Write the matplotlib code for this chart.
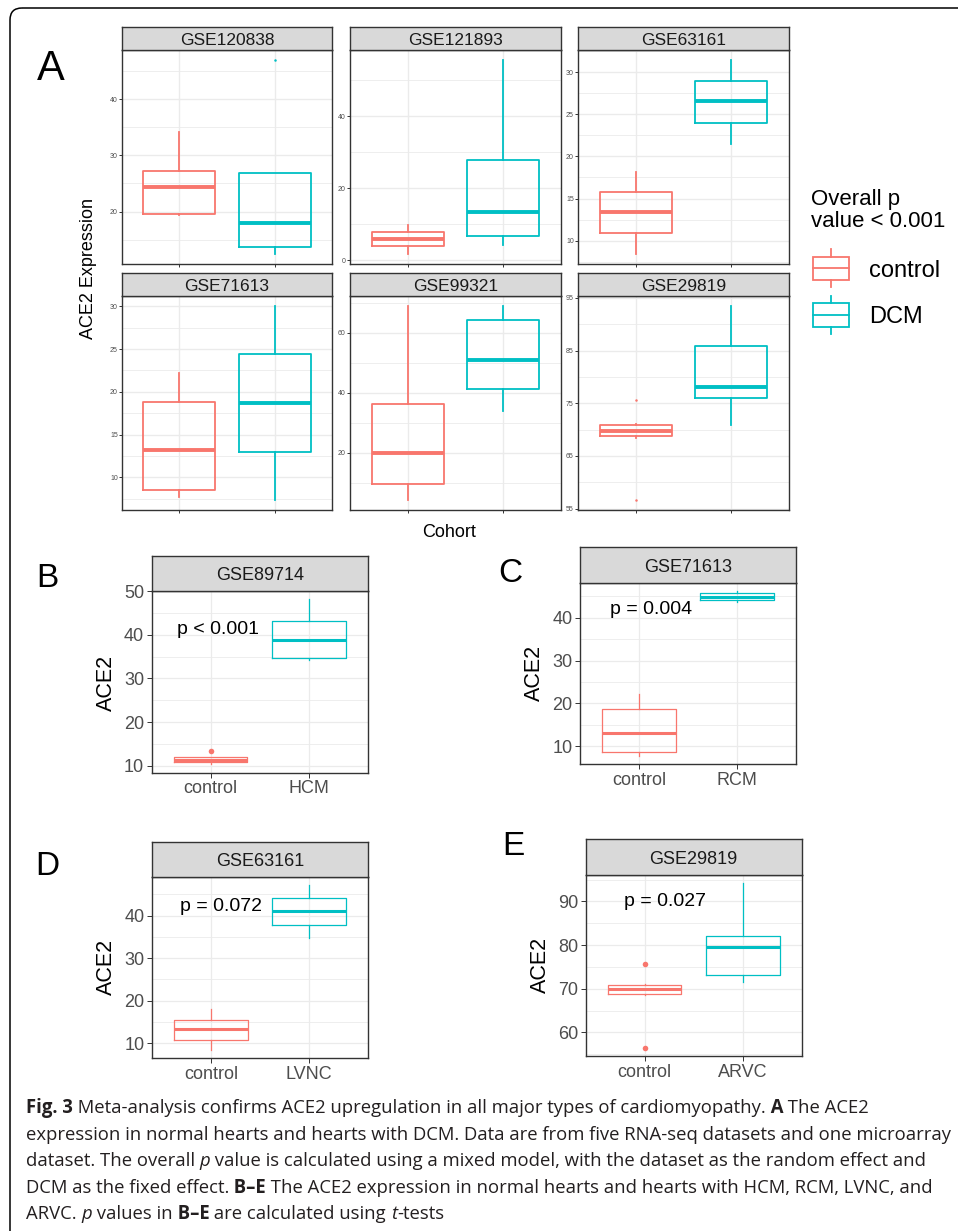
"""Fig. 3 - ACE2 expression box plots (meta-analysis across cardiomyopathies)."""

import numpy as np
import matplotlib.pyplot as plt
from matplotlib.patches import FancyBboxPatch, Rectangle

W, H = 958, 1231          # output size in pixels (dpi = 100)
CONTROL = "#F8766D"
CASE = "#00BFC4"
GRID = "#EBEBEB"
FRAME = "#333333"
TICK_TXT = "#4D4D4D"
STRIP = "#D9D9D9"
FONT = ["Liberation Sans", "DejaVu Sans"]
CAPTION_FONT = ["Open Sans", "DejaVu Sans"]

# ---- data: five-number summaries [whislo, q1, median, q3, whishi]
A_DATASETS = ["GSE120838", "GSE121893", "GSE63161", "GSE71613", "GSE99321", "GSE29819"]
A_CONTROL = [[19.4, 19.6, 24.4, 27.3, 34.2],
             [1.85, 3.9, 5.9, 8.0, 9.85],
             [8.45, 10.9, 13.4, 15.76, 18.1],
             [7.65, 8.55, 13.24, 18.75, 22.26],
             [4.2, 9.5, 20.0, 36.2, 68.8],
             [68.5, 68.75, 69.7, 70.83, 71.0]]
A_CONTROL_OUT = [[], [], [], [], [], [75.7, 56.6]]
A_DCM = [[12.5, 13.7, 17.9, 26.85, 26.85],
         [4.3, 6.8, 13.35, 27.8, 55.6],
         [21.5, 24.0, 26.57, 28.98, 31.47],
         [7.3, 12.97, 18.67, 24.37, 30.08],
         [33.9, 41.3, 50.8, 64.2, 69.0],
         [70.96, 75.95, 78.0, 85.95, 93.5]]
A_DCM_OUT = [[47.0], [], [], [], [], []]
A_BREAKS = [[20, 30, 40], [0, 20, 40], [10, 15, 20, 25, 30],
            [10, 15, 20, 25, 30], [20, 40, 60], [55, 65, 75, 85, 95]]
A_GROUPS = ["control", "DCM"]

SUB_LETTERS = ["B", "C", "D", "E"]
SUB_DATASETS = ["GSE89714", "GSE71613", "GSE63161", "GSE29819"]
SUB_GROUPS = ["HCM", "RCM", "LVNC", "ARVC"]
SUB_CONTROL = [[10.3, 10.8, 11.35, 11.95, 12.05],
               [7.7, 8.59, 13.2, 18.66, 22.25],
               [8.43, 10.8, 13.3, 15.6, 18.05],
               [68.5, 68.7, 69.85, 70.9, 71.1]]
SUB_CONTROL_OUT = [[13.3], [], [], [75.6, 56.5]]
SUB_CASE = [[34.2, 34.6, 38.9, 43.15, 48.1],
            [43.76, 44.23, 44.9, 45.78, 46.25],
            [34.8, 37.8, 41.1, 44.08, 47.07],
            [71.6, 73.2, 79.55, 81.98, 94.2]]
SUB_CASE_OUT = [[], [], [], []]
SUB_PVALUES = ["p < 0.001", "p = 0.004", "p = 0.072", "p = 0.027"]
SUB_BREAKS = [[10, 20, 30, 40, 50], [10, 20, 30, 40], [10, 20, 30, 40], [60, 70, 80, 90]]

CAPTION = [
    [("Fig. 3", "bold", "normal"),
     (" Meta-analysis confirms ACE2 upregulation in all major types of cardiomyopathy.", "normal", "normal"),
     (" A", "bold", "normal"), (" The ACE2", "normal", "normal")],
    [("expression in normal hearts and hearts with DCM. Data are from five RNA-seq datasets and one microarray",
      "normal", "normal")],
    [("dataset. The overall ", "normal", "normal"), ("p", "normal", "italic"),
     (" value is calculated using a mixed model, with the dataset as the random effect and", "normal", "normal")],
    [("DCM as the fixed effect.", "normal", "normal"), (" B\u2013E", "bold", "normal"),
     (" The ACE2 expression in normal hearts and hearts with HCM, RCM, LVNC, and", "normal", "normal")],
    [("ARVC. ", "normal", "normal"), ("p", "normal", "italic"), (" values in", "normal", "normal"),
     (" B\u2013E", "bold", "normal"), (" are calculated using ", "normal", "normal"),
     ("t", "normal", "italic"), ("-tests", "normal", "normal")],
]

# ---- layout (pixels, origin top-left)
A_COLS = [(122, 332), (350, 561), (578, 789)]
A_ROWS = [(27, 263.5), (273, 510)]
A_STRIP = 23
SUB_RECTS = [(151.7, 555.7, 367.7, 772.7), (580, 547.3, 796, 764.3),
             (152, 841.7, 368, 1058.3), (585.7, 839.3, 801.7, 1056)]
SUB_STRIP = 35.5
SUB_PPOS = [(0.655, 40.2), (0.705, 40.8), (0.685, 41.1), (0.79, 88.9)]
SUB_LETTER_POS = [(36.7, 586.7), (498, 581.5), (35, 875), (502.7, 855)]
SUB_YLABEL_POS = [(111.7, 682.5), (540, 673.3), (111.7, 966.7), (545.7, 965)]

STYLE_A = dict(tick_size=5, tick_len=2, pad=1, box_lw=1.3, med_lw=2.8, grid=1.0,
               minor=0.6, flier=1.8, strip_size=12.5, frame=1.0)
STYLE_SUB = dict(tick_size=13, tick_len=3.5, pad=2, box_lw=0.9, med_lw=2.2, grid=0.9,
                 minor=0.6, flier=4.0, strip_size=13, frame=1.0)

plt.rcParams["font.family"] = FONT


def px_axes(fig, x0, y0, x1, y1):
    return fig.add_axes([x0 / W, 1 - y1 / H, (x1 - x0) / W, (y1 - y0) / H])


def five(vals, out):
    lo, q1, med, q3, hi = vals
    return dict(whislo=lo, q1=q1, med=med, q3=q3, whishi=hi, fliers=out)


def draw_panel(fig, rect, strip_h, title, ctrl, ctrl_out, case, case_out,
               breaks, xlabels, s):
    x0, y0, x1, y1 = rect
    ax = px_axes(fig, x0, y0 + strip_h, x1, y1)
    st = px_axes(fig, x0, y0, x1, y0 + strip_h)

    res = ax.bxp([five(ctrl, ctrl_out), five(case, case_out)], positions=[1, 2],
                 widths=0.75, showcaps=False, manage_ticks=False,
                 boxprops=dict(lw=s["box_lw"]), whiskerprops=dict(lw=s["box_lw"]),
                 medianprops=dict(lw=s["med_lw"]),
                 flierprops=dict(marker="o", markersize=s["flier"], markeredgewidth=0))
    for i, c in enumerate([CONTROL, CASE]):
        res["boxes"][i].set_color(c)
        res["medians"][i].set_color(c)
        res["medians"][i].set_solid_capstyle("butt")
        res["whiskers"][2 * i].set_color(c)
        res["whiskers"][2 * i + 1].set_color(c)
        res["fliers"][i].set_markerfacecolor(c)

    lo = min(min(ctrl), min(case), *ctrl_out, *case_out)
    hi = max(max(ctrl), max(case), *ctrl_out, *case_out)
    pad = 0.05 * (hi - lo)
    ax.set_ylim(lo - pad, hi + pad)
    ax.set_xlim(0.4, 2.6)

    step = breaks[1] - breaks[0]
    minors = np.arange(breaks[0] - step / 2, breaks[-1] + step, step)
    minors = minors[(minors > lo - pad) & (minors < hi + pad)]
    ax.set_yticks(breaks)
    ax.set_yticklabels([str(b) for b in breaks])
    ax.set_yticks(minors, minor=True)
    ax.set_xticks([1, 2])
    ax.set_xticklabels(xlabels)
    ax.set_axisbelow(True)
    ax.grid(which="major", color=GRID, lw=s["grid"])
    ax.grid(which="minor", axis="y", color=GRID, lw=s["minor"])
    ax.tick_params(which="major", length=s["tick_len"], width=0.7, color=FRAME,
                   labelsize=s["tick_size"], labelcolor=TICK_TXT, pad=s["pad"])
    ax.tick_params(which="minor", length=0)
    for sp in ax.spines.values():
        sp.set_color(FRAME)
        sp.set_linewidth(s["frame"])

    st.set_facecolor(STRIP)
    st.set_xticks([])
    st.set_yticks([])
    for sp in st.spines.values():
        sp.set_color(FRAME)
        sp.set_linewidth(s["frame"])
    em = s["strip_size"] * 100 / 72
    base = ((strip_h - 0.716 * em) / 2) / strip_h
    st.text(0.5, base, title, ha="center", va="baseline", fontsize=s["strip_size"],
            color="#1A1A1A", transform=st.transAxes)
    return ax


def rich_line(ov, x, y, runs, size):
    renderer = ov.figure.canvas.get_renderer()
    for text, weight, style in runs:
        t = ov.text(x, y, text, fontsize=size, fontweight=weight, fontstyle=style,
                    family=CAPTION_FONT, va="baseline", ha="left", color="#231F20")
        x += t.get_window_extent(renderer).width


def main():
    fig = plt.figure(figsize=(W / 100, H / 100), dpi=100)

    # panel A: 2 x 3 facets
    for k, name in enumerate(A_DATASETS):
        r, c = divmod(k, 3)
        (x0, x1), (y0, y1) = A_COLS[c], A_ROWS[r]
        draw_panel(fig, (x0, y0, x1, y1), A_STRIP, name, A_CONTROL[k], A_CONTROL_OUT[k],
                   A_DCM[k], A_DCM_OUT[k], A_BREAKS[k], ["", ""], STYLE_A)

    # panels B-E
    for k, name in enumerate(SUB_DATASETS):
        ax = draw_panel(fig, SUB_RECTS[k], SUB_STRIP, name, SUB_CONTROL[k],
                        SUB_CONTROL_OUT[k], SUB_CASE[k], SUB_CASE_OUT[k],
                        SUB_BREAKS[k], ["control", SUB_GROUPS[k]], STYLE_SUB)
        px, py = SUB_PPOS[k]
        ax.text(px, py, SUB_PVALUES[k], fontsize=14, ha="left", va="baseline", color="black")

    # overlay in pixel coordinates for frame, letters, titles, legend, caption
    ov = fig.add_axes([0, 0, 1, 1])
    ov.set_xlim(0, W)
    ov.set_ylim(H, 0)
    ov.axis("off")
    ov.add_patch(FancyBboxPatch((10, 8), 1100, 1400, boxstyle="round,pad=0,rounding_size=12",
                                fc="none", ec="black", lw=1.1))

    ov.text(36.7, 80, "A", fontsize=30, va="baseline", ha="left")
    for k, letter in enumerate(SUB_LETTERS):
        lx, ly = SUB_LETTER_POS[k]
        ov.text(lx, ly, letter, fontsize=24, va="baseline", ha="left")
        yx, yy = SUB_YLABEL_POS[k]
        ov.text(yx, yy, "ACE2", fontsize=15.5, rotation=90, rotation_mode="anchor",
                ha="center", va="baseline")

    ov.text(93.3, 268.5, "ACE2 Expression", fontsize=13, rotation=90,
            rotation_mode="anchor", ha="center", va="baseline")
    ov.text(448.7, 537.3, "Cohort", fontsize=13, ha="center", va="baseline")

    # legend of panel A
    ov.text(810.7, 205, "Overall p", fontsize=16, va="baseline")
    ov.text(810.7, 226.7, "value < 0.001", fontsize=16, va="baseline")
    for (top, bot, wt, wb), c, lab, base in [((256.7, 280, 249.3, 287.3), CONTROL, A_GROUPS[0], 276.7),
                                             ((303.3, 326.7, 296, 334), CASE, A_GROUPS[1], 322.7)]:
        ov.add_patch(Rectangle((813.3, top), 35.7, bot - top, fc="white", ec=c, lw=1.3))
        ov.plot([813.3, 849], [(top + bot) / 2] * 2, color=c, lw=1.3)
        ov.plot([831.2, 831.2], [wt, top], color=c, lw=1.3)
        ov.plot([831.2, 831.2], [bot, wb], color=c, lw=1.3)
        ov.text(869.3, base, lab, fontsize=17, va="baseline")

    for i, runs in enumerate(CAPTION):
        rich_line(ov, 26, 1113 + 26.6 * i, runs, 13.35)

    fig.savefig("out.png", dpi=100)


if __name__ == "__main__":
    main()
